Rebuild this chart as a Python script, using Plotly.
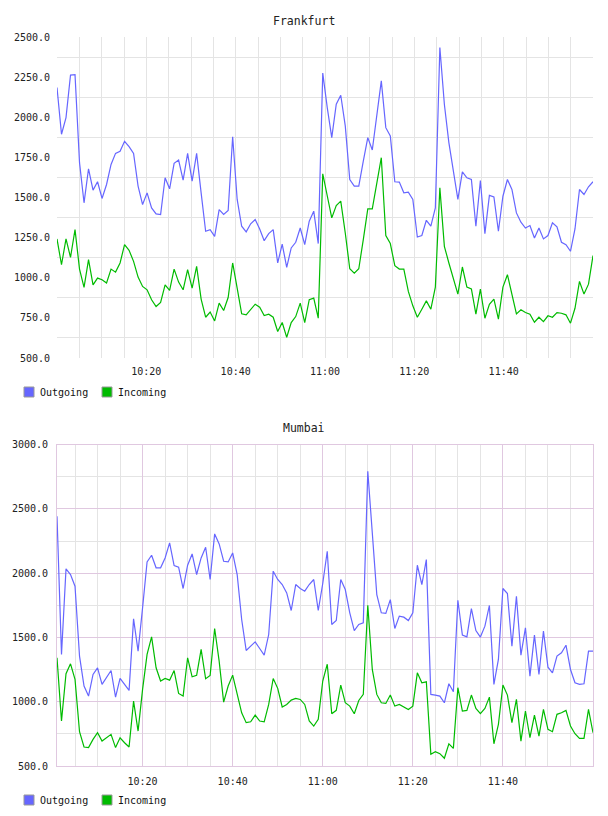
import pandas as pd
import plotly.graph_objects as go

# ---------------- data ----------------
fra_out = [2185, 1894, 1998, 2263, 2265, 1717, 1467, 1679, 1546, 1598,
           1494, 1581, 1706, 1775, 1788, 1850, 1817, 1775, 1571, 1456,
           1529, 1435, 1398, 1394, 1623, 1554, 1713, 1733, 1608, 1775,
           1602, 1775, 1529, 1290, 1300, 1258, 1425, 1394, 1419, 1879,
           1488, 1321, 1286, 1336, 1363, 1304, 1231, 1275, 1300, 1092,
           1210, 1065, 1186, 1221, 1310, 1206, 1352, 1415, 1213, 2275,
           2060, 1873, 2081, 2137, 1946, 1612, 1571, 1571, 1727, 1873,
           1796, 2008, 2227, 1935, 1883, 1598, 1596, 1529, 1533, 1488,
           1254, 1263, 1358, 1321, 1435, 2435, 2081, 1842, 1675, 1488,
           1660, 1623, 1612, 1321, 1606, 1275, 1513, 1504, 1290, 1508,
           1612, 1550, 1404, 1346, 1310, 1325, 1248, 1310, 1242, 1263,
           1342, 1317, 1221, 1206, 1165, 1304, 1550, 1519, 1567, 1598]
fra_in = [1242, 1081, 1242, 1127, 1300, 1054, 940, 1113, 956, 998,
          988, 967, 1054, 1035, 1092, 1206, 1171, 1102, 1004, 946,
          925, 863, 821, 846, 956, 921, 1054, 973, 925, 1050,
          935, 1071, 867, 754, 786, 731, 842, 796, 877, 1092,
          935, 775, 769, 804, 835, 817, 765, 773, 754, 665,
          721, 629, 721, 758, 842, 721, 863, 873, 748, 1648,
          1505, 1373, 1450, 1477, 1279, 1056, 1029, 1056, 1238, 1429,
          1429, 1592, 1748, 1263, 1213, 1075, 1054, 1054, 915, 825,
          754, 804, 856, 804, 942, 1560, 1196, 1092, 992, 898,
          1067, 942, 931, 773, 929, 748, 835, 867, 742, 942,
          1019, 894, 775, 800, 783, 773, 723, 754, 727, 763,
          754, 783, 779, 769, 717, 810, 977, 898, 960, 1138]
mum_out = [2443, 1368, 2034, 1990, 1899, 1355, 1122, 1044, 1212, 1264,
           1135, 1192, 1243, 1036, 1181, 1135, 1088, 1645, 1394, 1731,
           2088, 2140, 2042, 2042, 2119, 2236, 2060, 2047, 1881, 2062,
           2150, 1990, 2119, 2202, 1951, 2306, 2228, 2093, 2088, 2158,
           1990, 1640, 1399, 1433, 1466, 1414, 1363, 1523, 2016, 1951,
           1912, 1847, 1710, 1912, 1881, 1860, 1912, 1951, 1710, 1920,
           2171, 1601, 1632, 1951, 1873, 1692, 1554, 1601, 1614, 2793,
           2301, 1834, 1692, 1687, 1795, 1570, 1666, 1658, 1632, 1692,
           2062, 1912, 2106, 1057, 1052, 1044, 992, 1140, 1078, 1790,
           1518, 1505, 1725, 1554, 1503, 1588, 1749, 1135, 1329, 1881,
           1842, 1433, 1821, 1363, 1575, 1199, 1518, 1212, 1549, 1269,
           1225, 1355, 1381, 1440, 1251, 1148, 1135, 1140, 1394, 1394]
mum_in = [1342, 850, 1218, 1295, 1174, 767, 648, 643, 707, 759,
          694, 720, 746, 643, 720, 681, 648, 1005, 772, 1096,
          1368, 1505, 1264, 1161, 1181, 1168, 1243, 1065, 1044, 1342,
          1194, 1205, 1407, 1179, 1205, 1570, 1316, 997, 1122, 1207,
          1070, 914, 837, 844, 896, 850, 844, 979, 1181, 1104,
          959, 979, 1013, 1026, 1018, 979, 850, 811, 863, 1161,
          1292, 907, 933, 1130, 992, 966, 907, 1010, 1057, 1751,
          1251, 1057, 992, 987, 1052, 966, 979, 959, 940, 966,
          1225, 1148, 1155, 591, 611, 596, 560, 673, 637, 1109,
          927, 933, 1052, 948, 907, 948, 1036, 673, 824, 1130,
          1052, 837, 1018, 694, 927, 720, 896, 733, 940, 785,
          767, 902, 914, 933, 811, 751, 715, 715, 940, 759]

fra_time = pd.date_range("2024-01-01 10:00", "2024-01-01 12:00", periods=len(fra_out))
mum_time = pd.date_range("2024-01-01 10:01", periods=len(mum_out), freq="1min")

series_names = ["Outgoing", "Incoming"]
x_tick_labels = ["10:20", "10:40", "11:00", "11:20", "11:40"]
fra_y_ticks = [500, 750, 1000, 1250, 1500, 1750, 2000, 2250, 2500]
fra_y_grid = [625, 875, 1125, 1375, 1625, 1875, 2125, 2375]
mum_y_ticks = [500, 1000, 1500, 2000, 2500, 3000]
mum_y_grid = [750, 1250, 1750, 2250, 2750]

# ---------------- style ----------------
BLUE = "#6666ff"
GREEN = "#00bb00"
GRID = "#e4e4e4"
PINK = "#e0c8e0"
FONT = "DejaVu Sans Mono"
W, H = 608, 816
L, R, T, B = 57, 15, 37, 50
PW, PH = W - L - R, H - T - B


def px(x):
    return (x - L) / PW


def py(y):
    return (H - B - y) / PH


xticks = [pd.Timestamp("2024-01-01 " + t) for t in x_tick_labels]

fig = go.Figure()
fig.add_trace(go.Scatter(x=fra_time, y=fra_out, mode="lines", line=dict(color=BLUE, width=1.2),
                         name=series_names[0], xaxis="x", yaxis="y", showlegend=False))
fig.add_trace(go.Scatter(x=fra_time, y=fra_in, mode="lines", line=dict(color=GREEN, width=1.2),
                         name=series_names[1], xaxis="x", yaxis="y", showlegend=False))
fig.add_trace(go.Scatter(x=mum_time, y=mum_out, mode="lines", line=dict(color=BLUE, width=1.2),
                         name=series_names[0], xaxis="x2", yaxis="y2", showlegend=False))
fig.add_trace(go.Scatter(x=mum_time, y=mum_in, mode="lines", line=dict(color=GREEN, width=1.2),
                         name=series_names[1], xaxis="x2", yaxis="y2", showlegend=False))

tickfont = dict(family=FONT, size=10, color="#222")

fig.update_layout(
    width=W, height=H, margin=dict(l=L, r=R, t=T, b=B),
    paper_bgcolor="white", plot_bgcolor="white", showlegend=False,
    xaxis=dict(domain=[0, 1], anchor="y", range=[fra_time[0], fra_time[-1]],
               tickvals=xticks, tickformat="%H:%M", tickfont=tickfont,
               showgrid=True, gridcolor=GRID, gridwidth=1, zeroline=False, showline=False,
               ticks="", ticklabelstandoff=6,
               minor=dict(dtick=5 * 60 * 1000, tick0="2024-01-01 10:00", showgrid=True,
                          gridcolor=GRID, gridwidth=1)),
    yaxis=dict(domain=[py(358), 1], anchor="x", range=[500, 2500],
               tickvals=fra_y_ticks, tickformat=".1f", tickfont=tickfont,
               showgrid=False, zeroline=False, showline=False, ticks="", ticklabelstandoff=6,
               minor=dict(tickvals=fra_y_grid, showgrid=True, gridcolor=GRID, gridwidth=1)),
    xaxis2=dict(domain=[0, 1], anchor="y2", range=[mum_time[0], mum_time[-1]],
                tickvals=xticks, tickformat="%H:%M", tickfont=tickfont,
                showgrid=True, gridcolor=PINK, gridwidth=1, zeroline=False,
                showline=True, linecolor=PINK, linewidth=1, mirror=True,
                ticks="", ticklabelstandoff=6,
                minor=dict(dtick=5 * 60 * 1000, tick0="2024-01-01 10:00", showgrid=True,
                           gridcolor=GRID, gridwidth=1)),
    yaxis2=dict(domain=[0, py(444.7)], anchor="x2", range=[500, 3000],
                tickvals=mum_y_ticks, tickformat=".1f", tickfont=tickfont,
                showgrid=True, gridcolor=PINK, gridwidth=1, zeroline=False,
                showline=True, linecolor=PINK, linewidth=1, mirror=True,
                ticks="", ticklabelstandoff=6,
                minor=dict(tickvals=mum_y_grid, showgrid=True, gridcolor=GRID, gridwidth=1)),
)

annotations = [
    dict(text="Frankfurt", x=px(304), y=py(20.5)),
    dict(text="Mumbai", x=px(304), y=py(428)),
]
for a in annotations:
    fig.add_annotation(xref="paper", yref="paper", showarrow=False, xanchor="center",
                       yanchor="middle", font=dict(family=FONT, size=11.5, color="#222"), **a)

# legends (manual swatches)
for top, bottom in [(387, 397), (795, 805)]:
    for name, color, x0 in [(series_names[0], BLUE, 24), (series_names[1], GREEN, 102)]:
        fig.add_shape(type="rect", xref="paper", yref="paper",
                      x0=px(x0), x1=px(x0 + 10), y0=py(bottom), y1=py(top),
                      fillcolor=color, line=dict(color="#999999", width=1))
        fig.add_annotation(xref="paper", yref="paper", x=px(x0 + 14), y=py((top + bottom) / 2),
                           text=name, showarrow=False, xanchor="left", yanchor="middle",
                           font=dict(family=FONT, size=10, color="#111"))

fig.write_html("out.html")
